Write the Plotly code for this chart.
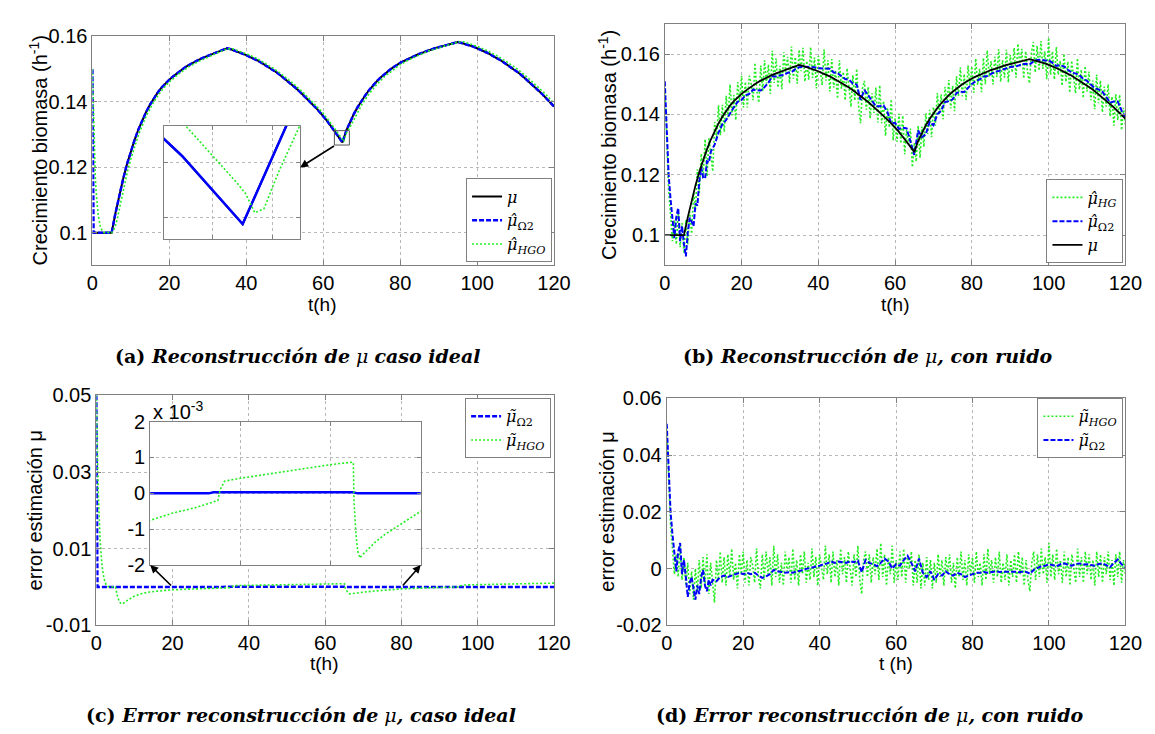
import plotly.graph_objects as go

W, H = 1155, 734

# ---------------- data ----------------
t_hours = list(range(121))
mu_true = [0.1000, 0.1000, 0.1000, 0.1000, 0.1000, 0.1000,
           0.1060, 0.1115, 0.1165, 0.1210, 0.1250,
           0.1285, 0.1317, 0.1345, 0.1370, 0.1392, 0.1412, 0.1429, 0.1444, 0.1457, 0.1468,
           0.1478, 0.1488, 0.1497, 0.1505, 0.1512, 0.1519, 0.1525, 0.1531, 0.1536, 0.1541,
           0.1546, 0.1551, 0.1555, 0.1560, 0.1564, 0.1561, 0.1557, 0.1553, 0.1548, 0.1543,
           0.1537, 0.1532, 0.1526, 0.1519, 0.1512, 0.1505, 0.1497, 0.1489, 0.1480, 0.1471,
           0.1461, 0.1451, 0.1441, 0.1430, 0.1419, 0.1407, 0.1395, 0.1383, 0.1370, 0.1357,
           0.1342, 0.1326, 0.1309, 0.1294, 0.1276, 0.1312, 0.1340, 0.1364, 0.1385, 0.1404,
           0.1421, 0.1437, 0.1451, 0.1464, 0.1475, 0.1486, 0.1495, 0.1504, 0.1512, 0.1519,
           0.1525, 0.1531, 0.1537, 0.1542, 0.1547, 0.1551, 0.1556, 0.1560, 0.1564, 0.1567,
           0.1570, 0.1574, 0.1577, 0.1580, 0.1583, 0.1580, 0.1577, 0.1573, 0.1569, 0.1564,
           0.1559, 0.1553, 0.1548, 0.1541, 0.1535, 0.1528, 0.1520, 0.1512, 0.1504, 0.1496,
           0.1487, 0.1477, 0.1467, 0.1457, 0.1446, 0.1434, 0.1423, 0.1411, 0.1398, 0.1386]

# Omega2 estimate in the ideal case: starts at 0.15, equal to mu after ~0.3 h
omega_a_t_start = [0.0, 0.3]
omega_a_start = [0.15, 0.10]

hgo_a_t = [0, 0.25, 0.5, 0.75, 1, 1.5, 2, 2.5, 3, 5, 5.5, 6, 6.5, 7, 8, 9, 10, 12, 14, 16, 18, 20,
           22.5, 25, 27.5, 30, 32.5, 35, 36.5, 40, 42.5, 45, 47.5, 50, 52.5, 55, 57.5, 60, 62.5,
           63.5, 64, 64.5, 64.9, 65.05, 65.2, 65.35, 65.6, 66, 66.5, 67, 68, 70, 72, 74, 76, 78, 80,
           82.5, 85, 87.5, 90, 92.5, 95, 96.5, 100, 102.5, 105, 107.5, 110, 112.5, 115, 117.5, 120]
hgo_a = [0.150, 0.137, 0.125, 0.117, 0.112, 0.1055, 0.1022, 0.1007, 0.1001, 0.1000, 0.1008, 0.1022,
         0.1044, 0.1072, 0.1129, 0.1181, 0.1226, 0.1300, 0.1357, 0.1401, 0.1435, 0.1461,
         0.1486, 0.1507, 0.1523, 0.1537, 0.1550, 0.1562, 0.1562, 0.1547, 0.1534, 0.1517, 0.1499,
         0.1477, 0.1453, 0.1426, 0.1397, 0.1365, 0.1326,
         0.1310, 0.1303, 0.1294, 0.1287, 0.1284, 0.1279, 0.1280, 0.1290, 0.1304, 0.1312, 0.1324, 0.1348,
         0.1391, 0.1426, 0.1454, 0.1478, 0.1497, 0.1514,
         0.1530, 0.1544, 0.1556, 0.1565, 0.1574, 0.1583, 0.1584, 0.1570, 0.1557, 0.1542, 0.1524,
         0.1504, 0.1481, 0.1455, 0.1427, 0.1396]

err_omega_c_t = [0, 0.3, 33, 34, 65, 66, 120]
err_omega_c = [0.05, 0.0, 0.0, 0.00003, 0.00003, 0.0, 0.0]

err_hgo_c_t = [0, 0.5, 1, 1.5, 2, 2.5, 3, 5, 5.5, 6, 6.5, 7, 8, 9, 10, 12, 14, 16, 18, 20, 25, 30,
               33, 34.5, 35, 35.5, 36.5, 40, 45, 50, 55, 60, 64.9, 65.05, 65.2, 65.6, 66, 66.5, 67,
               68, 70, 72, 75, 80, 85, 90, 94.5, 95, 95.5, 96.5, 100, 105, 110, 115, 120]
err_hgo_c = [0.050, 0.025, 0.012, 0.0055, 0.0022, 0.0007, 0.0001, 0.0, -0.0022, -0.0038, -0.0044,
             -0.0043, -0.0036, -0.0029, -0.0024, -0.0017, -0.0013, -0.0011, -0.0009, -0.00075,
             -0.00055, -0.0004, -0.00028, -0.00022, -0.0002, 0.0001, 0.00034, 0.00042, 0.00052,
             0.00062, 0.00071, 0.00080, 0.00087, 0.00085, -0.0002, -0.0011, -0.0016, -0.0018,
             -0.00172, -0.0016, -0.00135, -0.00115, -0.0009, -0.0005, -0.0003, -0.00018, -0.0001,
             0.0, 0.0003, 0.0005, 0.0006, 0.0007, 0.0008, 0.0009, 0.001]

# noisy case: HG estimate sampled every 0.5 h
t_half = [i * 0.5 for i in range(241)]
hg_b = [0.1500, 0.1310, 0.1150, 0.1070, 0.0980, 0.1050, 0.0970, 0.1080, 0.0960, 0.1040,
        0.0940, 0.1050, 0.0970, 0.1078, 0.1005, 0.1140, 0.1085, 0.1218, 0.1140, 0.1270,
        0.1190, 0.1318, 0.1195, 0.1321, 0.1267, 0.1211, 0.1375, 0.1318, 0.1430, 0.1331,
        0.1432, 0.1342, 0.1462, 0.1391, 0.1499, 0.1397, 0.1464, 0.1381, 0.1507, 0.1443,
        0.1528, 0.1423, 0.1508, 0.1423, 0.1528, 0.1503, 0.1447, 0.1571, 0.1475, 0.1439,
        0.1562, 0.1476, 0.1579, 0.1502, 0.1565, 0.1468, 0.1611, 0.1504, 0.1586, 0.1489,
        0.1561, 0.1484, 0.1606, 0.1539, 0.1591, 0.1503, 0.1625, 0.1518, 0.1590, 0.1502,
        0.1614, 0.1543, 0.1621, 0.1509, 0.1577, 0.1515, 0.1623, 0.1521, 0.1588, 0.1486,
        0.1593, 0.1550, 0.1497, 0.1615, 0.1512, 0.1579, 0.1476, 0.1583, 0.1489, 0.1546,
        0.1452, 0.1579, 0.1485, 0.1541, 0.1447, 0.1553, 0.1489, 0.1425, 0.1530, 0.1446,
        0.1551, 0.1426, 0.1371, 0.1486, 0.1511, 0.1416, 0.1491, 0.1386, 0.1470, 0.1405,
        0.1489, 0.1373, 0.1497, 0.1371, 0.1445, 0.1329, 0.1423, 0.1357, 0.1450, 0.1314,
        0.1387, 0.1310, 0.1402, 0.1304, 0.1396, 0.1268, 0.1349, 0.1301, 0.1353, 0.1225,
        0.1306, 0.1244, 0.1362, 0.1256, 0.1360, 0.1292, 0.1404, 0.1335, 0.1415, 0.1325,
        0.1424, 0.1363, 0.1471, 0.1399, 0.1467, 0.1384, 0.1491, 0.1438, 0.1514, 0.1420,
        0.1495, 0.1411, 0.1526, 0.1461, 0.1555, 0.1460, 0.1534, 0.1448, 0.1562, 0.1496,
        0.1559, 0.1472, 0.1585, 0.1498, 0.1551, 0.1474, 0.1587, 0.1500, 0.1612, 0.1525,
        0.1577, 0.1499, 0.1591, 0.1524, 0.1616, 0.1508, 0.1580, 0.1522, 0.1614, 0.1506,
        0.1597, 0.1539, 0.1620, 0.1522, 0.1634, 0.1556, 0.1617, 0.1519, 0.1610, 0.1542,
        0.1503, 0.1602, 0.1640, 0.1539, 0.1627, 0.1545, 0.1643, 0.1551, 0.1609, 0.1517,
        0.1654, 0.1532, 0.1609, 0.1516, 0.1623, 0.1531, 0.1578, 0.1495, 0.1601, 0.1508,
        0.1575, 0.1472, 0.1578, 0.1524, 0.1470, 0.1586, 0.1482, 0.1548, 0.1454, 0.1560,
        0.1476, 0.1542, 0.1447, 0.1512, 0.1417, 0.1532, 0.1437, 0.1512, 0.1407, 0.1492,
        0.1426, 0.1500, 0.1394, 0.1459, 0.1363, 0.1467, 0.1381, 0.1465, 0.1348, 0.1422,
        0.1366]

omega_b_t = [0, 0.25, 0.5, 1, 1.5, 2, 2.5, 3, 3.5, 4, 4.5, 5, 5.5, 6, 6.5, 7, 7.5, 8, 8.5, 9,
             9.5, 10, 10.5, 11, 11.5, 12] + list(range(13, 121))
omega_b = [0.151, 0.142, 0.133, 0.120, 0.112, 0.105, 0.099, 0.106, 0.109, 0.098, 0.103, 0.097,
           0.093, 0.101, 0.1058, 0.1045, 0.103, 0.1105, 0.1098, 0.118, 0.1225, 0.119, 0.1188,
           0.1245, 0.1241, 0.1277,
           0.1300, 0.1340, 0.1367, 0.1382, 0.1404, 0.1424, 0.1442, 0.1448, 0.1463, 0.1468,
           0.1482, 0.1480, 0.1479, 0.1491, 0.1505, 0.1526, 0.1526, 0.1529, 0.1531, 0.1538,
           0.1540, 0.1550, 0.1556, 0.1558, 0.1557, 0.1558, 0.1556, 0.1553, 0.1552, 0.1550,
           0.1551, 0.1539, 0.1537, 0.1527, 0.1517, 0.1515, 0.1502, 0.1499, 0.1448, 0.1481,
           0.1461, 0.1445, 0.1427, 0.1427, 0.1430, 0.1408, 0.1370, 0.1372, 0.1352, 0.1356,
           0.1354, 0.1313, 0.1266, 0.1347, 0.1325, 0.1334, 0.1375, 0.1364, 0.1401, 0.1412,
           0.1441, 0.1444, 0.1450, 0.1471, 0.1475, 0.1474, 0.1487, 0.1501, 0.1510, 0.1516,
           0.1525, 0.1527, 0.1534, 0.1541, 0.1544, 0.1548, 0.1554, 0.1557, 0.1559, 0.1561,
           0.1566, 0.1568, 0.1565, 0.1575, 0.1580, 0.1581, 0.1579, 0.1579, 0.1571, 0.1561,
           0.1563, 0.1559, 0.1548, 0.1538, 0.1536, 0.1530, 0.1518, 0.1511, 0.1499, 0.1487,
           0.1483, 0.1475, 0.1458, 0.1439, 0.1443, 0.1443, 0.1413, 0.1391]

err_hgo_d = [0.050, 0.031, 0.015, 0.007, -0.002, 0.005, -0.003, 0.008, -0.004, 0.004,
             -0.006, 0.002, -0.009, -0.001, -0.011, 0.000, -0.008, 0.003, -0.007, 0.004,
             -0.006, 0.005, -0.009, 0.002, -0.005, -0.012, 0.003, -0.004, 0.006, -0.005,
             0.004, -0.006, 0.005, -0.003, 0.007, -0.004, 0.002, -0.007, 0.005, -0.002,
             0.006, -0.005, 0.003, -0.006, 0.004, 0.001, -0.005, 0.007, -0.003, -0.007,
             0.005, -0.004, 0.006, -0.002, 0.004, -0.006, 0.008, -0.003, 0.005, -0.005,
             0.002, -0.006, 0.006, -0.001, 0.004, -0.005, 0.007, -0.004, 0.003, -0.006,
             0.005, -0.002, 0.006, -0.005, 0.002, -0.004, 0.007, -0.003, 0.004, -0.006,
             0.005, 0.001, -0.004, 0.008, -0.002, 0.005, -0.005, 0.006, -0.003, 0.003,
             -0.006, 0.007, -0.002, 0.004, -0.005, 0.006, 0.000, -0.006, 0.005, -0.003,
             0.008, -0.004, -0.009, 0.003, 0.006, -0.003, 0.005, -0.005, 0.004, -0.002,
             0.007, -0.004, 0.009, -0.003, 0.005, -0.006, 0.004, -0.002, 0.008, -0.005,
             0.003, -0.004, 0.006, -0.003, 0.007, -0.005, 0.004, 0.000, 0.006, -0.006,
             0.003, -0.005, 0.005, -0.007, 0.002, -0.006, 0.004, -0.004, 0.003, -0.007,
             0.002, -0.005, 0.005, -0.003, 0.003, -0.006, 0.004, -0.002, 0.005, -0.005,
             0.002, -0.007, 0.004, -0.003, 0.006, -0.004, 0.003, -0.006, 0.005, -0.002,
             0.004, -0.005, 0.006, -0.003, 0.002, -0.006, 0.005, -0.004, 0.007, -0.002,
             0.003, -0.005, 0.004, -0.003, 0.006, -0.005, 0.002, -0.004, 0.005, -0.006,
             0.003, -0.003, 0.005, -0.005, 0.006, -0.002, 0.004, -0.006, 0.003, -0.004,
             -0.008, 0.002, 0.006, -0.004, 0.005, -0.003, 0.007, -0.002, 0.004, -0.005,
             0.009, -0.003, 0.005, -0.004, 0.007, -0.002, 0.003, -0.005, 0.006, -0.003,
             0.004, -0.006, 0.005, 0.000, -0.005, 0.007, -0.003, 0.004, -0.005, 0.006,
             -0.002, 0.005, -0.004, 0.003, -0.006, 0.006, -0.003, 0.005, -0.005, 0.004,
             -0.002, 0.006, -0.004, 0.003, -0.006, 0.005, -0.003, 0.006, -0.005, 0.003,
             -0.002]

err_omega_d = [0.051, 0.042, 0.033, 0.020, 0.012, 0.005, -0.001, 0.006, 0.009, -0.002, 0.003,
               -0.003, -0.010, -0.005, -0.003, -0.007, -0.011, -0.006, -0.009, -0.003, -0.0005,
               -0.006, -0.008, -0.004, -0.006, -0.004,
               -0.0045, -0.003, -0.0025, -0.003, -0.0025, -0.002, -0.0015, -0.002, -0.0015, -0.002,
               -0.0015, -0.0025, -0.0033, -0.0028, -0.002, -0.0005, -0.001, -0.0012, -0.0015, -0.0013,
               -0.0015, -0.001, -0.0008, -0.0003, 0.0, 0.0005, 0.0008, 0.001, 0.0015, 0.0018,
               0.0025, 0.002, 0.0025, 0.0022, 0.002, 0.0026, 0.0022, 0.0028, -0.0013, 0.003,
               0.002, 0.0015, 0.0008, 0.002, 0.0035, 0.0025, 0.0, 0.0015, 0.001, 0.003,
               0.0045, 0.002, -0.001, 0.0035, -0.0015, -0.003, -0.001, -0.004, -0.002, -0.0025,
               -0.001, -0.002, -0.0025, -0.0015, -0.002, -0.003, -0.0025, -0.0018, -0.0015, -0.0015,
               -0.0012, -0.0015, -0.0013, -0.001, -0.0012, -0.0012, -0.001, -0.001, -0.0011, -0.0013,
               -0.0011, -0.0012, -0.0018, -0.0005, 0.0003, 0.0008, 0.001, 0.0015, 0.0012, 0.0008,
               0.0015, 0.0018, 0.0013, 0.001, 0.0016, 0.0018, 0.0014, 0.0015, 0.0012, 0.001,
               0.0016, 0.0018, 0.0012, 0.0005, 0.002, 0.0032, 0.0015, 0.0005]

x_ticks = [0, 20, 40, 60, 80, 100, 120]

assert len(mu_true) == 121 and len(hgo_a_t) == len(hgo_a)
assert len(err_hgo_c_t) == len(err_hgo_c)
assert len(hg_b) == 241 and len(err_hgo_d) == 241
assert len(omega_b_t) == len(omega_b) == len(err_omega_d)

# ---------------- styling ----------------
BLUE = '#0000ff'
GREEN = '#22ee22'
BLACK = '#000000'
AXC = '#808080'
SANS = 'Liberation Sans, Arial, sans-serif'
SERIF = 'DejaVu Serif, serif'

blue_line = dict(color=BLUE, width=2.5, dash='5px,2px')
green_line = dict(color=GREEN, width=1.6, dash='2px,2px')
black_line = dict(color=BLACK, width=2)

fig = go.Figure()

def add(x, y, line, name, xa, ya, legend, show=True):
    fig.add_trace(go.Scatter(x=x, y=y, mode='lines', line=line, name=name,
                             xaxis=xa, yaxis=ya, legend=legend, showlegend=show,
                             hoverinfo='skip'))

# names
L_MU = '<i>μ</i>'
L_HAT_O2 = '<i>μ̂</i><sub>Ω2</sub>'
L_HAT_HGO = '<i>μ̂</i><sub><i>HGO</i></sub>'
L_HAT_HG = '<i>μ̂</i><sub><i>HG</i></sub>'
L_TIL_O2 = '<i>μ̃</i><sub>Ω2</sub>'
L_TIL_HGO = '<i>μ̃</i><sub><i>HGO</i></sub>'

omega_a_x = omega_a_t_start + t_hours[1:]
omega_a_y = omega_a_start + mu_true[1:]

# (a) ideal case
add(t_hours, mu_true, black_line, L_MU, 'x', 'y', 'legend')
add(omega_a_x, omega_a_y, blue_line, L_HAT_O2, 'x', 'y', 'legend')
add(hgo_a_t, hgo_a, green_line, L_HAT_HGO, 'x', 'y', 'legend')
# inset of (a)
add(t_hours, mu_true, black_line, L_MU, 'x5', 'y5', 'legend', False)
add(omega_a_x, omega_a_y, dict(color=BLUE, width=2.5), L_HAT_O2, 'x5', 'y5', 'legend', False)
add(hgo_a_t, hgo_a, green_line, L_HAT_HGO, 'x5', 'y5', 'legend', False)

# (b) noisy case
add(t_half, hg_b, green_line, L_HAT_HG, 'x2', 'y2', 'legend2')
add(omega_b_t, omega_b, dict(color=BLUE, width=2, dash='5px,2px'), L_HAT_O2, 'x2', 'y2', 'legend2')
add(t_hours, mu_true, dict(color=BLACK, width=1.8), L_MU, 'x2', 'y2', 'legend2')

# (c) error, ideal
add(err_omega_c_t, err_omega_c, blue_line, L_TIL_O2, 'x3', 'y3', 'legend3')
add(err_hgo_c_t, err_hgo_c, green_line, L_TIL_HGO, 'x3', 'y3', 'legend3')
# inset of (c)
add(err_omega_c_t, err_omega_c, dict(color=BLUE, width=2.5), L_TIL_O2, 'x6', 'y6', 'legend3', False)
add(err_hgo_c_t, err_hgo_c, green_line, L_TIL_HGO, 'x6', 'y6', 'legend3', False)

# (d) error, noisy
add(t_half, err_hgo_d, green_line, L_TIL_HGO, 'x4', 'y4', 'legend4')
add(omega_b_t, err_omega_d, dict(color=BLUE, width=2, dash='5px,2px'), L_TIL_O2, 'x4', 'y4', 'legend4')


def ax(domain_px, horizontal, **kw):
    if horizontal:
        dom = [domain_px[0] / W, domain_px[1] / W]
    else:
        dom = [1 - domain_px[1] / H, 1 - domain_px[0] / H]
    base = dict(domain=dom, showline=True, linecolor=AXC, linewidth=1, mirror='ticks',
                ticks='inside', ticklen=5, tickcolor=AXC, tickwidth=1,
                showgrid=True, gridcolor='#b8b8b8', griddash='dot', gridwidth=1,
                zeroline=False, fixedrange=True,
                tickfont=dict(family=SANS, size=20, color='black'))
    base.update(kw)
    return base

xt = dict(tickvals=x_ticks, ticktext=[str(v) for v in x_ticks], range=[0, 120])

fig.update_layout(
    width=W, height=H, margin=dict(l=0, r=0, t=0, b=0),
    paper_bgcolor='white', plot_bgcolor='white',
    xaxis=ax((80, 551), True, anchor='y', **xt),
    yaxis=ax((18, 254), False, anchor='x', range=[0.09, 0.16],
             tickvals=[0.1, 0.12, 0.14, 0.16], ticktext=['0.1', '0.12', '0.14', '0.16']),
    xaxis2=ax((664, 1134), True, anchor='y2', **xt),
    yaxis2=ax((5, 254), False, anchor='x2', range=[0.09, 0.17],
              tickvals=[0.1, 0.12, 0.14, 0.16], ticktext=['0.1', '0.12', '0.14', '0.16']),
    xaxis3=ax((84, 551), True, anchor='y3', **xt),
    yaxis3=ax((388, 625), False, anchor='x3', range=[-0.01, 0.05],
              tickvals=[-0.01, 0.01, 0.03, 0.05], ticktext=['-0.01', '0.01', '0.03', '0.05']),
    xaxis4=ax((666, 1134), True, anchor='y4', **xt),
    yaxis4=ax((391, 625), False, anchor='x4', range=[-0.02, 0.06],
              tickvals=[-0.02, 0, 0.02, 0.04, 0.06], ticktext=['-0.02', '0', '0.02', '0.04', '0.06']),
    xaxis5=ax((153, 292), True, anchor='y5', range=[63.7, 65.95], tickvals=[64.5, 65.5],
              showticklabels=False, ticklen=4),
    yaxis5=ax((110, 227), False, anchor='x5', range=[0.1272, 0.1302], tickvals=[0.12777, 0.12922],
              showticklabels=False, ticklen=4),
    xaxis6=ax((139, 415), True, anchor='y6', range=[20, 80], tickvals=[40, 60],
              showticklabels=False, ticklen=4),
    yaxis6=ax((415, 563), False, anchor='x6', range=[-0.002, 0.002],
              tickvals=[-0.002, -0.001, 0, 0.001, 0.002], ticktext=['-2', '-1', '0', '1', '2'],
              ticklen=4),
)

leg = dict(bgcolor='white', bordercolor=AXC, borderwidth=1,
           font=dict(family=SERIF, size=16, color='black'),
           itemwidth=30, tracegroupgap=0, xanchor='right')
fig.update_layout(
    legend=dict(leg, x=549 / W, y=1 - 251 / H, yanchor='bottom'),
    legend2=dict(leg, x=1132 / W, y=1 - 252 / H, yanchor='bottom'),
    legend3=dict(leg, x=548 / W, y=1 - 391 / H, yanchor='top'),
    legend4=dict(leg, x=1132 / W, y=1 - 391 / H, yanchor='top'),
)

# inset marker, arrows
fig.add_shape(type='rect', xref='x', yref='y', x0=62.9, x1=66.8, y0=0.1268, y1=0.1312,
              line=dict(color='#555555', width=1))
arrow = dict(showarrow=True, arrowhead=2, arrowsize=1, arrowwidth=1.6, arrowcolor='black', text='')
fig.add_annotation(xref='x', yref='y', axref='x', ayref='y', x=54.0, y=0.11996, ax=63.2, ay=0.1268, **arrow)
fig.add_annotation(xref='x3', yref='y3', axref='x3', ayref='y3', x=14.13, y=0.0057, ax=20, ay=0.0, **arrow)
fig.add_annotation(xref='x3', yref='y3', axref='x3', ayref='y3', x=85.05, y=0.0057, ax=80, ay=0.0, **arrow)


def txt(x, y, text, size=20, family=SANS, angle=0, xanchor='center', yanchor='middle'):
    fig.add_annotation(xref='paper', yref='paper', x=x / W, y=1 - y / H, text=text,
                       showarrow=False, textangle=angle, xanchor=xanchor, yanchor=yanchor,
                       font=dict(family=family, size=size, color='black'))

# axis titles
txt(25, 136, 'Crecimiento biomasa (h<sup>-1</sup>)', angle=-90)
txt(605, 130, 'Crecimiento biomasa (h<sup>-1</sup>)', angle=-90)
txt(21, 507, 'error estimación μ', angle=-90)
txt(605, 508, 'error estimación μ', angle=-90)
txt(315, 294, 't(h)', size=19)
txt(899, 294, 't(h)', size=19)
txt(317, 664, 't(h)', size=19)
txt(900, 664, 't (h)', size=19)
txt(140, 404, 'x 10<sup>-3</sup>', xanchor='left')

# captions
txt(289, 347, '<b>(a) <i>Reconstrucción de</i></b> <i>μ</i> <b><i>caso ideal</i></b>', size=19, family=SERIF)
txt(871, 347, '<b>(b) <i>Reconstrucción de</i></b> <i>μ</i><b><i>, con ruido</i></b>', size=19, family=SERIF)
txt(293, 717, '<b>(c) <i>Error reconstrucción de</i></b> <i>μ</i><b><i>, caso ideal</i></b>', size=19, family=SERIF)
txt(873, 717, '<b>(d) <i>Error reconstrucción de</i></b> <i>μ</i><b><i>, con ruido</i></b>', size=19, family=SERIF)

fig.write_html('out.html')
